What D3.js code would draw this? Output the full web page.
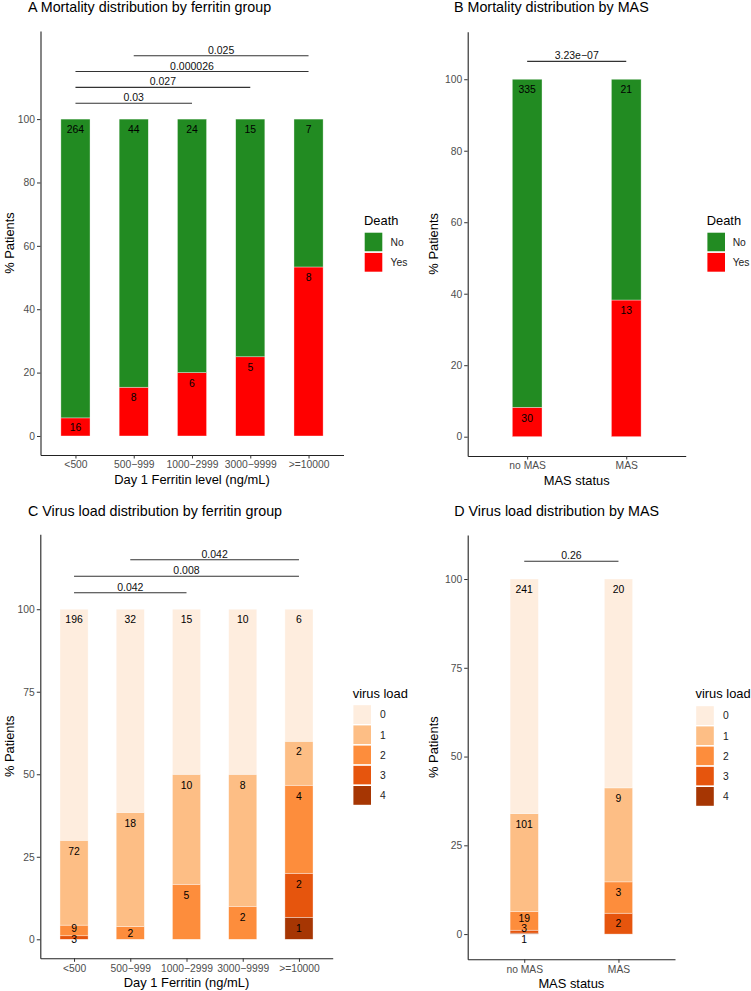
<!DOCTYPE html>
<html><head><meta charset="utf-8">
<script src="https://cdn.jsdelivr.net/npm/d3@7"></script>
<style>
body{margin:0;background:#fff}
text{font-family:"Liberation Sans",Arial,Helvetica,sans-serif}
</style>
</head><body>
<svg id="chart" width="751" height="991"></svg>
<script>
// ---------------- DATA ----------------
const ferritinGroups = ["<500", "500\u2212999", "1000\u22122999", "3000\u22129999", ">=10000"];
const masGroups = ["no MAS", "MAS"];

const deathLevels = ["No", "Yes"];
const deathNoFerritin  = [264, 44, 24, 15, 7];
const deathYesFerritin = [16, 8, 6, 5, 8];
const deathNoMAS  = [335, 21];
const deathYesMAS = [30, 13];

const virusLevels = ["0", "1", "2", "3", "4"];
const virus0Ferritin = [196, 32, 15, 10, 6];
const virus1Ferritin = [72, 18, 10, 8, 2];
const virus2Ferritin = [9, 2, 5, 2, 4];
const virus3Ferritin = [3, 0, 0, 0, 2];
const virus4Ferritin = [0, 0, 0, 0, 1];
const virus0MAS = [241, 20];
const virus1MAS = [101, 9];
const virus2MAS = [19, 3];
const virus3MAS = [3, 2];
const virus4MAS = [1, 0];

const ticksMortality = [0, 20, 40, 60, 80, 100];
const ticksVirus = [0, 25, 50, 75, 100];

const bracketsAGroups = [["<500", "1000\u22122999"], ["<500", "3000\u22129999"], ["<500", ">=10000"], ["500\u2212999", ">=10000"]];
const bracketsAP = ["0.03", "0.027", "0.000026", "0.025"];
const bracketsAY = [105, 110, 115, 120];
const bracketsBGroups = [["no MAS", "MAS"]];
const bracketsBP = ["3.23e\u221207"];
const bracketsBY = [105];
const bracketsCGroups = [["<500", "1000\u22122999"], ["<500", ">=10000"], ["500\u2212999", ">=10000"]];
const bracketsCP = ["0.042", "0.008", "0.042"];
const bracketsCY = [105, 110, 115];
const bracketsDGroups = [["no MAS", "MAS"]];
const bracketsDP = ["0.26"];
const bracketsDY = [105];

const deathColors = ["#228B22", "#FF0000"];
const virusColors = ["#FEEDDE", "#FDBE85", "#FD8D3C", "#E6550D", "#A63603"];

// ---------------- DRAW ----------------
const svg = d3.select("#chart");

function spread(items, gap) {
  items.sort((a, b) => a.pos - b.pos);
  let clusters = items.map(it => ({ items: [it], center: it.pos }));
  let merged = true;
  while (merged) {
    merged = false;
    for (let k = 0; k < clusters.length - 1; k++) {
      const a = clusters[k], b = clusters[k + 1];
      const aEnd = a.center + (a.items.length - 1) / 2 * gap;
      const bStart = b.center - (b.items.length - 1) / 2 * gap;
      if (bStart - aEnd < gap) {
        const its = a.items.concat(b.items);
        clusters.splice(k, 2, { items: its, center: d3.mean(its, it => it.pos) });
        merged = true;
        break;
      }
    }
  }
  clusters.forEach(c => c.items.forEach((it, i) => { it.y = c.center + (i - (c.items.length - 1) / 2) * gap; }));
}

function drawPanel(o) {
  const g = svg.append("g");
  const x = d3.scalePoint().domain(o.cats).range(o.xRange).padding(0.6);
  const y = d3.scaleLinear().domain(o.yDomain).range(o.yRange);
  const bw = x.step() * o.barFrac;
  const color = d3.scaleOrdinal().domain(o.levels).range(o.colors);

  const totals = o.cats.map((c, i) => d3.sum(o.series, s => s[i]));
  const rows = o.cats.map((c, i) => {
    const r = { cat: c };
    o.levels.forEach((l, j) => { r[l] = o.series[j][i] / totals[i] * 100; });
    return r;
  });
  const layers = d3.stack().keys(o.levels.slice().reverse())(rows);

  // title
  g.append("text").attr("x", o.titleX).attr("y", o.titleY)
    .attr("font-size", 14.3).attr("fill", "#000").text(o.title);

  // bars
  layers.forEach(layer => {
    g.append("g").selectAll("rect").data(layer).join("rect")
      .attr("x", d => x(d.data.cat) - bw / 2).attr("width", bw)
      .attr("y", d => y(d[1])).attr("height", d => Math.max(0, y(d[0]) - y(d[1])))
      .attr("fill", color(layer.key))
      .attr("stroke", "#fff").attr("stroke-opacity", 0.6).attr("stroke-width", 0.6);
  });

  // count labels
  o.cats.forEach((c, i) => {
    const segs = [];
    layers.forEach(layer => {
      const d = layer[i];
      const j = o.levels.indexOf(layer.key);
      const n = o.series[j][i];
      if (n > 0) {
        const top = y(d[1]), bot = y(d[0]);
        segs.push({ n: n, pos: (bot - top) >= 21 ? top + 10.5 : (top + bot) / 2 });
      }
    });
    spread(segs, 10.7);
    g.append("g").selectAll("text").data(segs).join("text")
      .attr("x", x(c)).attr("y", d => d.y).attr("dy", "0.36em")
      .attr("text-anchor", "middle").attr("font-size", 10.4).attr("fill", "#000")
      .text(d => d.n);
  });

  // axes
  const ya = g.append("g").attr("transform", `translate(${o.xRange[0]},0)`)
    .call(d3.axisLeft(y).tickValues(o.ticks).tickSize(3.5).tickSizeOuter(0).tickPadding(2));
  const xa = g.append("g").attr("transform", `translate(0,${o.yRange[0]})`)
    .call(d3.axisBottom(x).tickSize(3.5).tickSizeOuter(0).tickPadding(2.6));
  [ya, xa].forEach(a => {
    a.select(".domain").attr("stroke", "#222").attr("stroke-width", 1.1);
    a.selectAll(".tick line").attr("stroke", "#333").attr("stroke-width", 1);
    a.selectAll(".tick text").attr("fill", "#4D4D4D").attr("font-size", 10.3)
      .style("font-family", '"Liberation Sans",Arial,sans-serif');
  });

  // axis titles
  g.append("text").attr("x", (o.xRange[0] + o.xRange[1]) / 2).attr("y", o.yRange[0] + 24.3)
    .attr("dy", "0.36em").attr("text-anchor", "middle").attr("font-size", 12.9).text(o.xTitle);
  const ymid = (o.yRange[0] + o.yRange[1]) / 2;
  g.append("text").attr("transform", `translate(${o.yTitleX},${ymid}) rotate(-90)`)
    .attr("dy", "0.36em").attr("text-anchor", "middle").attr("font-size", 12.9).text("% Patients");

  // significance brackets
  o.brGroups.forEach((pair, k) => {
    const yy = y(o.brY[k]);
    g.append("line").attr("x1", x(pair[0])).attr("x2", x(pair[1]))
      .attr("y1", yy).attr("y2", yy).attr("stroke", "#333").attr("stroke-width", 1.1);
    g.append("text").attr("x", (x(pair[0]) + x(pair[1])) / 2).attr("y", yy - 5.8)
      .attr("dy", "0.36em").attr("text-anchor", "middle").attr("font-size", 10.5)
      .attr("fill", "#111").text(o.brP[k]);
  });

  // legend
  const L = o.legend;
  const lg = g.append("g");
  lg.append("text").attr("x", L.x).attr("y", L.titleY).attr("dy", "0.36em")
    .attr("font-size", 12.9).text(L.title);
  const pitch = 20.2;
  o.levels.forEach((l, i) => {
    lg.append("rect").attr("x", L.x).attr("y", L.keyTop + i * pitch)
      .attr("width", 19).attr("height", pitch)
      .attr("fill", color(l)).attr("stroke", "#fff").attr("stroke-width", 1.4);
    lg.append("text").attr("x", L.labelX).attr("y", L.keyTop + i * pitch + pitch / 2)
      .attr("dy", "0.36em").attr("font-size", 10.3).attr("fill", "#222").text(l);
  });
}

drawPanel({
  title: "A Mortality distribution by ferritin group", titleX: 28, titleY: 11.5,
  cats: ferritinGroups, levels: deathLevels, series: [deathNoFerritin, deathYesFerritin], colors: deathColors,
  xRange: [40.5, 343.5], yRange: [455, 31], yDomain: [-6, 127.8], ticks: ticksMortality, barFrac: 0.5,
  xTitle: "Day 1 Ferritin level (ng/mL)", yTitleX: 9,
  brGroups: bracketsAGroups, brP: bracketsAP, brY: bracketsAY,
  legend: { title: "Death", x: 364, titleY: 220, keyTop: 232, labelX: 390.5 }
});
drawPanel({
  title: "B Mortality distribution by MAS", titleX: 454, titleY: 11.5,
  cats: masGroups, levels: deathLevels, series: [deathNoMAS, deathYesMAS], colors: deathColors,
  xRange: [467.7, 685.7], yRange: [456, 31.7], yDomain: [-5.4, 113.3], ticks: ticksMortality, barFrac: 0.3,
  xTitle: "MAS status", yTitleX: 433,
  brGroups: bracketsBGroups, brP: bracketsBP, brY: bracketsBY,
  legend: { title: "Death", x: 706.7, titleY: 220, keyTop: 232, labelX: 732.7 }
});
drawPanel({
  title: "C Virus load distribution by ferritin group", titleX: 28, titleY: 515.8,
  cats: ferritinGroups, levels: virusLevels,
  series: [virus0Ferritin, virus1Ferritin, virus2Ferritin, virus3Ferritin, virus4Ferritin], colors: virusColors,
  xRange: [40.3, 332.7], yRange: [958.3, 534.3], yDomain: [-5.76, 122.7], ticks: ticksVirus, barFrac: 0.5,
  xTitle: "Day 1 Ferritin (ng/mL)", yTitleX: 9,
  brGroups: bracketsCGroups, brP: bracketsCP, brY: bracketsCY,
  legend: { title: "virus load", x: 352.7, titleY: 693.3, keyTop: 704.5, labelX: 380 }
});
drawPanel({
  title: "D Virus load distribution by MAS", titleX: 454.3, titleY: 515.8,
  cats: masGroups, levels: virusLevels,
  series: [virus0MAS, virus1MAS, virus2MAS, virus3MAS, virus4MAS], colors: virusColors,
  xRange: [467.7, 675], yRange: [959.3, 535], yDomain: [-7.1, 112.4], ticks: ticksVirus, barFrac: 0.3,
  xTitle: "MAS status", yTitleX: 433,
  brGroups: bracketsDGroups, brP: bracketsDP, brY: bracketsDY,
  legend: { title: "virus load", x: 695.5, titleY: 693.3, keyTop: 705.5, labelX: 723 }
});
</script>
</body></html>
